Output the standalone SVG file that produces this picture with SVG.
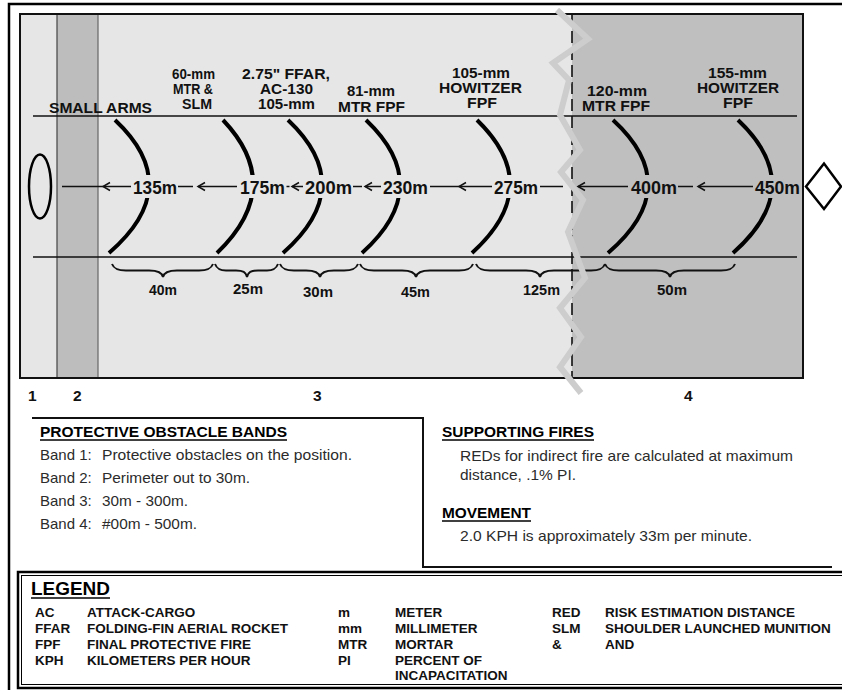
<svg xmlns="http://www.w3.org/2000/svg" width="842" height="690" viewBox="0 0 842 690">
<style>
text{font-family:"Liberation Sans",Arial,sans-serif;fill:#111}
.lbl{font-weight:bold;font-size:14.5px}
.dist{font-weight:bold;font-size:17.5px}
.br{font-weight:bold;font-size:14px}
.num{font-weight:bold;font-size:15.5px}
.h{font-weight:bold;font-size:15px;fill:#000}
.body{font-size:15px;fill:#2b2b2b}
.leg{font-weight:bold;font-size:13.5px}
.legh{font-weight:bold;font-size:18px;fill:#000}
.ln{stroke:#111;stroke-width:1.5;fill:none}
.arc{stroke:#000;stroke-width:4;fill:none}
.brace{stroke:#111;stroke-width:2;fill:none}
.lt{fill:#e6e6e6}
.dk{fill:#bfbfbf}
</style>
<defs>
<marker id="chev" markerUnits="userSpaceOnUse" orient="auto" refX="0" refY="0" markerWidth="10" markerHeight="10" overflow="visible">
<path d="M7,-4 L0,0 L7,4" fill="none" stroke="#111" stroke-width="1.5"/>
</marker>
</defs>
<rect width="842" height="690" fill="#fff"/>
<!-- outer frame -->
<path d="M9,690 V4 H842" fill="none" stroke="#000" stroke-width="2.5"/>
<!-- bands -->
<g id="bands">
<rect class="lt" x="20" y="14" width="37" height="364"/>
<rect x="57" y="14" width="41" height="364" fill="#bdbdbd"/>
<rect class="lt" x="98" y="14" width="474" height="364"/>
<rect class="dk" x="572" y="14" width="231" height="364"/>
<line x1="57" y1="14" x2="57" y2="378" stroke="#444" stroke-width="1.2"/>
<line x1="98" y1="14" x2="98" y2="378" stroke="#666" stroke-width="1.2"/>
<rect x="20" y="14" width="783" height="364" fill="none" stroke="#111" stroke-width="2"/>
</g>
<g id="lanes">
<line class="ln" x1="33" y1="116" x2="797" y2="116"/>
<line class="ln" x1="33" y1="257" x2="797" y2="257"/>
<line x1="572" y1="14" x2="572" y2="378" stroke="#111" stroke-width="1.6" stroke-dasharray="12 5"/>
</g>
<g id="arcs">
<path class="arc" d="M115,120 Q186,186.5 109,253"/>
<path class="arc" d="M223,120 Q286,186.5 217,253"/>
<path class="arc" d="M288,120 Q358.5,186.5 283,253"/>
<path class="arc" d="M366,120 Q436,186.5 362,253"/>
<path class="arc" d="M477,120 Q545.5,186.5 472,253"/>
<path class="arc" d="M613,120 Q685.5,186.5 608,253"/>
<path class="arc" d="M738,120 Q808.5,186.5 733,253"/>
</g>
<g id="masks">
<rect class="lt" x="132" y="175" width="46" height="23"/>
<rect class="lt" x="239" y="175" width="47" height="23"/>
<rect class="lt" x="304" y="175" width="49" height="23"/>
<rect class="lt" x="382" y="175" width="47" height="23"/>
<rect class="lt" x="493" y="175" width="46" height="23"/>
<rect class="dk" x="630" y="175" width="48" height="23"/>
<rect class="dk" x="754" y="175" width="47" height="23"/>
</g>
<g id="connectors">
<line class="ln" x1="62" y1="186.5" x2="103" y2="186.5"/>
<line class="ln" x1="103" y1="186.5" x2="131" y2="186.5" marker-start="url(#chev)"/>
<line class="ln" x1="178" y1="186.5" x2="193" y2="186.5"/>
<line class="ln" x1="198" y1="186.5" x2="237" y2="186.5" marker-start="url(#chev)"/>
<line class="ln" x1="286.5" y1="186.5" x2="289.5" y2="186.5"/>
<line class="ln" x1="292" y1="186.5" x2="303" y2="186.5" marker-start="url(#chev)"/>
<line class="ln" x1="353" y1="186.5" x2="362" y2="186.5"/>
<line class="ln" x1="365" y1="186.5" x2="381" y2="186.5" marker-start="url(#chev)"/>
<line class="ln" x1="430" y1="186.5" x2="459" y2="186.5"/>
<line class="ln" x1="459" y1="186.5" x2="492" y2="186.5" marker-start="url(#chev)"/>
<line class="ln" x1="540" y1="186.5" x2="563" y2="186.5"/>
<line class="ln" x1="578" y1="186.5" x2="628" y2="186.5" marker-start="url(#chev)"/>
<line class="ln" x1="678" y1="186.5" x2="693" y2="186.5"/>
<line class="ln" x1="698" y1="186.5" x2="753" y2="186.5" marker-start="url(#chev)"/>
</g>
<g id="braces">
<path class="brace" d="M112,264 C114,269 118,270.5 126,270.5 L149,270.5 C157,270.5 162,272 163,277 C164,272 169,270.5 177,270.5 L199,270.5 C207,270.5 211,269 213,264"/>
<path class="brace" d="M215,264 C217,269 220,270.5 226,270.5 L236,270.5 C243,270.5 246,272 247,277 C248,272 251,270.5 258,270.5 L267,270.5 C273,270.5 276,269 278,264"/>
<path class="brace" d="M280,264 C282,269 286,270.5 294,270.5 L306,270.5 C314,270.5 319,272 320,277 C321,272 326,270.5 334,270.5 L344,270.5 C352,270.5 356,269 358,264"/>
<path class="brace" d="M360,264 C362,269 366,270.5 374,270.5 L402,270.5 C410,270.5 415,272 416,277 C417,272 422,270.5 430,270.5 L459,270.5 C467,270.5 471,269 473,264"/>
<path class="brace" d="M476,264 C478,269 482,270.5 490,270.5 L526,270.5 C534,270.5 539,272 540,277 C541,272 546,270.5 554,270.5 L591,270.5 C599,270.5 603,269 605,264"/>
<path class="brace" d="M605,264 C607,269 611,270.5 619,270.5 L656,270.5 C664,270.5 669,272 670,277 C671,272 676,270.5 684,270.5 L721,270.5 C729,270.5 733,269 735,264"/>
</g>
<g id="zigzag">
<polyline points="557,10 588,39 553,63 569,80 560,115 580,150 561,172 583,200 568,232 585,278 560,308 581,337 560,367 581,393" fill="none" stroke="#cdcdcd" stroke-width="6" stroke-linejoin="miter"/>
</g>
<g id="position">
<ellipse cx="40" cy="186.5" rx="11" ry="32" fill="none" stroke="#000" stroke-width="2.5"/>
</g>
<g id="enemy">
<polygon points="806,186.5 824,163.5 841,186.5 824,209" fill="#fff" stroke="#000" stroke-width="2.5"/>
</g>
<g id="weapon-labels">
<text class="lbl" x="49" y="113" textLength="103" lengthAdjust="spacingAndGlyphs">SMALL ARMS</text>
<text class="lbl" x="172" y="78.5" textLength="43" lengthAdjust="spacingAndGlyphs">60-mm</text>
<text class="lbl" x="173" y="93.5" textLength="40" lengthAdjust="spacingAndGlyphs">MTR &amp;</text>
<text class="lbl" x="182" y="108.5" textLength="30" lengthAdjust="spacingAndGlyphs">SLM</text>
<text class="lbl" x="242" y="78.5" textLength="88" lengthAdjust="spacingAndGlyphs">2.75" FFAR,</text>
<text class="lbl" x="260" y="93.5" textLength="53" lengthAdjust="spacingAndGlyphs">AC-130</text>
<text class="lbl" x="258" y="108.5" textLength="57" lengthAdjust="spacingAndGlyphs">105-mm</text>
<text class="lbl" x="347" y="96" textLength="48" lengthAdjust="spacingAndGlyphs">81-mm</text>
<text class="lbl" x="338" y="111.5" textLength="67" lengthAdjust="spacingAndGlyphs">MTR FPF</text>
<text class="lbl" x="452" y="77.5" textLength="58" lengthAdjust="spacingAndGlyphs">105-mm</text>
<text class="lbl" x="439" y="93" textLength="83" lengthAdjust="spacingAndGlyphs">HOWITZER</text>
<text class="lbl" x="467" y="108" textLength="30" lengthAdjust="spacingAndGlyphs">FPF</text>
<text class="lbl" x="587" y="96" textLength="60" lengthAdjust="spacingAndGlyphs">120-mm</text>
<text class="lbl" x="582" y="110.5" textLength="68" lengthAdjust="spacingAndGlyphs">MTR FPF</text>
<text class="lbl" x="708" y="77.5" textLength="59" lengthAdjust="spacingAndGlyphs">155-mm</text>
<text class="lbl" x="697" y="93" textLength="82" lengthAdjust="spacingAndGlyphs">HOWITZER</text>
<text class="lbl" x="723" y="108" textLength="30" lengthAdjust="spacingAndGlyphs">FPF</text>
</g>
<g id="distance-labels">
<text class="dist" x="133" y="193.5" textLength="44" lengthAdjust="spacingAndGlyphs">135m</text>
<text class="dist" x="240" y="193.5" textLength="45" lengthAdjust="spacingAndGlyphs">175m</text>
<text class="dist" x="305" y="193.5" textLength="47" lengthAdjust="spacingAndGlyphs">200m</text>
<text class="dist" x="383" y="193.5" textLength="45" lengthAdjust="spacingAndGlyphs">230m</text>
<text class="dist" x="494" y="193.5" textLength="44" lengthAdjust="spacingAndGlyphs">275m</text>
<text class="dist" x="631" y="193.5" textLength="46" lengthAdjust="spacingAndGlyphs">400m</text>
<text class="dist" x="755" y="193.5" textLength="45" lengthAdjust="spacingAndGlyphs">450m</text>
</g>
<g id="brace-labels">
<text class="br" x="149" y="295" textLength="28" lengthAdjust="spacingAndGlyphs">40m</text>
<text class="br" x="233" y="294" textLength="30" lengthAdjust="spacingAndGlyphs">25m</text>
<text class="br" x="303" y="297" textLength="30" lengthAdjust="spacingAndGlyphs">30m</text>
<text class="br" x="401" y="297" textLength="29" lengthAdjust="spacingAndGlyphs">45m</text>
<text class="br" x="523" y="295" textLength="37" lengthAdjust="spacingAndGlyphs">125m</text>
<text class="br" x="657" y="295" textLength="30" lengthAdjust="spacingAndGlyphs">50m</text>
</g>
<g id="band-numbers">
<text class="num" x="28" y="401">1</text>
<text class="num" x="73" y="401">2</text>
<text class="num" x="313" y="401">3</text>
<text class="num" x="684" y="401">4</text>
</g>
<g id="notes">
<path d="M32,418 H423 V567 H832" fill="none" stroke="#111" stroke-width="2"/>
<text class="h" x="40" y="437" textLength="247" lengthAdjust="spacingAndGlyphs">PROTECTIVE OBSTACLE BANDS</text>
<line x1="40" y1="440" x2="287" y2="440" stroke="#000" stroke-width="1.4"/>
<text class="body" x="40" y="460">Band 1:</text>
<text class="body" x="102" y="460" textLength="250" lengthAdjust="spacingAndGlyphs">Protective obstacles on the position.</text>
<text class="body" x="40" y="483">Band 2:</text>
<text class="body" x="102" y="483" textLength="148" lengthAdjust="spacingAndGlyphs">Perimeter out to 30m.</text>
<text class="body" x="40" y="506">Band 3:</text>
<text class="body" x="102" y="506" textLength="86" lengthAdjust="spacingAndGlyphs">30m - 300m.</text>
<text class="body" x="40" y="529">Band 4:</text>
<text class="body" x="102" y="529" textLength="95" lengthAdjust="spacingAndGlyphs">#00m - 500m.</text>
<text class="h" x="442" y="437" textLength="152" lengthAdjust="spacingAndGlyphs">SUPPORTING FIRES</text>
<line x1="442" y1="440" x2="594" y2="440" stroke="#000" stroke-width="1.4"/>
<text class="body" x="460" y="461" textLength="333" lengthAdjust="spacingAndGlyphs">REDs for indirect fire are calculated at maximum</text>
<text class="body" x="460" y="480" textLength="116" lengthAdjust="spacingAndGlyphs">distance, .1% PI.</text>
<text class="h" x="442" y="518" textLength="89" lengthAdjust="spacingAndGlyphs">MOVEMENT</text>
<line x1="442" y1="521" x2="531" y2="521" stroke="#000" stroke-width="1.4"/>
<text class="body" x="460" y="541" textLength="292" lengthAdjust="spacingAndGlyphs">2.0 KPH is approximately 33m per minute.</text>
</g>
<g id="legend">
<rect x="18" y="572" width="840" height="116" fill="none" stroke="#000" stroke-width="2.5"/>
<rect x="21.5" y="575.5" width="835" height="109" fill="none" stroke="#000" stroke-width="1"/>
<text class="legh" x="31" y="595" textLength="79" lengthAdjust="spacingAndGlyphs">LEGEND</text>
<line x1="31" y1="598" x2="110" y2="598" stroke="#000" stroke-width="1.6"/>
<text class="leg" x="35" y="617">AC</text>
<text class="leg" x="35" y="633">FFAR</text>
<text class="leg" x="35" y="649">FPF</text>
<text class="leg" x="35" y="665">KPH</text>
<text class="leg" x="87" y="617">ATTACK-CARGO</text>
<text class="leg" x="87" y="633">FOLDING-FIN AERIAL ROCKET</text>
<text class="leg" x="87" y="649">FINAL PROTECTIVE FIRE</text>
<text class="leg" x="87" y="665">KILOMETERS PER HOUR</text>
<text class="leg" x="338" y="617">m</text>
<text class="leg" x="338" y="633">mm</text>
<text class="leg" x="338" y="649">MTR</text>
<text class="leg" x="338" y="665">PI</text>
<text class="leg" x="395" y="617">METER</text>
<text class="leg" x="395" y="633">MILLIMETER</text>
<text class="leg" x="395" y="649">MORTAR</text>
<text class="leg" x="395" y="665">PERCENT OF</text>
<text class="leg" x="395" y="680">INCAPACITATION</text>
<text class="leg" x="552" y="617">RED</text>
<text class="leg" x="552" y="633">SLM</text>
<text class="leg" x="552" y="649">&amp;</text>
<text class="leg" x="605" y="617">RISK ESTIMATION DISTANCE</text>
<text class="leg" x="605" y="633">SHOULDER LAUNCHED MUNITION</text>
<text class="leg" x="605" y="649">AND</text>
</g>
</svg>
